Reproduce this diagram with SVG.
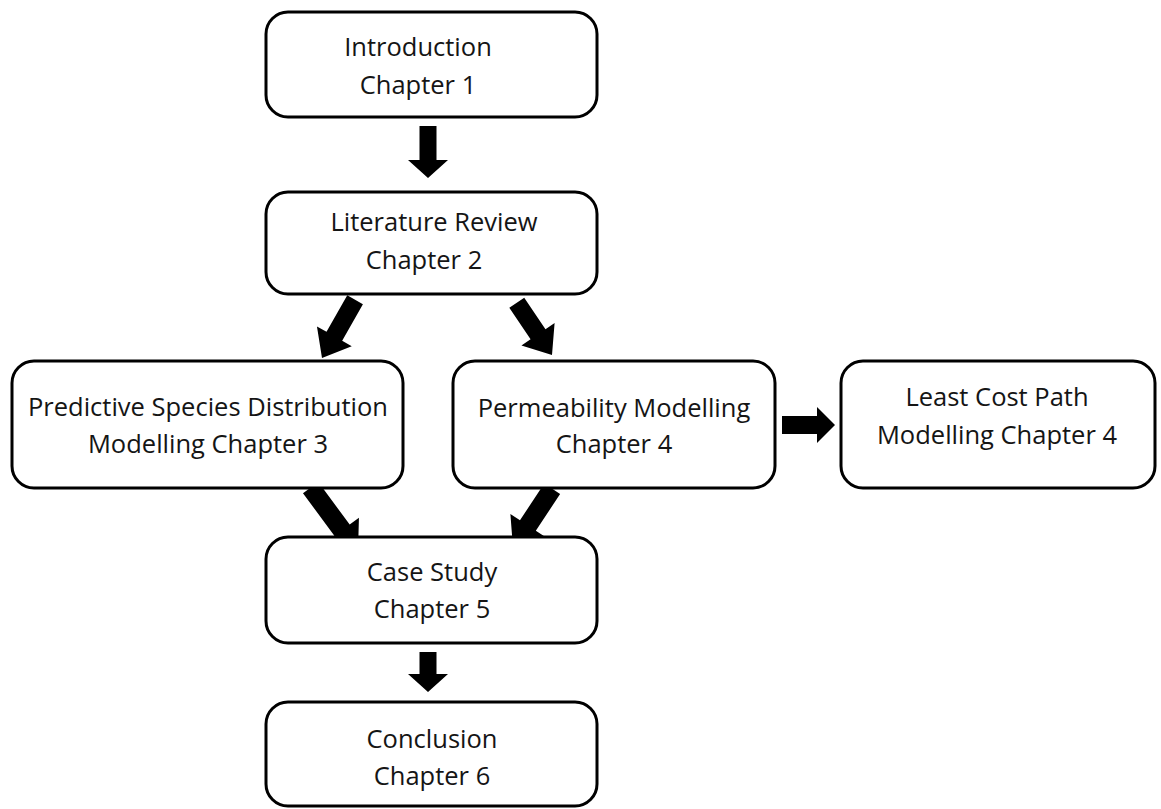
<svg xmlns="http://www.w3.org/2000/svg" width="1161" height="809" viewBox="0 0 1161 809">
<style>
.box{fill:#fff;stroke:#000;stroke-width:3}
.t{font-family:"Open Sans","Liberation Sans",sans-serif;font-size:25.5px;fill:#151515;text-anchor:middle}
.arr{fill:#000}
</style>
<rect width="1161" height="809" fill="#fff"/>
<g id="connectors">
<path class="arr" transform="translate(428,178) rotate(90)" d="M-52,-8.5 L-18,-8.5 L-18,-20 L0,0 L-18,20 L-18,8.5 L-52,8.5 Z"/>
<path class="arr" transform="translate(322,358) rotate(119.6)" d="M-67,-9 L-25,-9 L-25,-20 L0,0 L-25,20 L-25,9 L-67,9 Z"/>
<path class="arr" transform="translate(552,355) rotate(56)" d="M-63,-9 L-25,-9 L-25,-20 L0,0 L-25,20 L-25,9 L-63,9 Z"/>
<path class="arr" transform="translate(358,552) rotate(53.7)" d="M-80,-9.5 L-27,-9.5 L-27,-21 L0,0 L-27,21 L-27,9.5 L-80,9.5 Z"/>
<path class="arr" transform="translate(513,548) rotate(123.5)" d="M-71,-9.5 L-27,-9.5 L-27,-21 L0,0 L-27,21 L-27,9.5 L-71,9.5 Z"/>
<path class="arr" transform="translate(428,692) rotate(90)" d="M-40,-8.5 L-18,-8.5 L-18,-20 L0,0 L-18,20 L-18,8.5 L-40,8.5 Z"/>
<path class="arr" transform="translate(835,425) rotate(0)" d="M-53,-9 L-18,-9 L-18,-18 L0,0 L-18,18 L-18,9 L-53,9 Z"/>
</g>
<g id="intro">
<rect class="box" x="266" y="12" width="331" height="105" rx="22"/>
<text class="t" x="418" y="56">Introduction</text>
<text class="t" x="418" y="94">Chapter 1</text>
</g>
<g id="literature">
<rect class="box" x="266" y="192" width="331" height="102" rx="22"/>
<text class="t" x="434" y="231">Literature Review</text>
<text class="t" x="424" y="269">Chapter 2</text>
</g>
<g id="predictive">
<rect class="box" x="12" y="361" width="391" height="127" rx="22"/>
<text class="t" x="208" y="416">Predictive Species Distribution</text>
<text class="t" x="208" y="453">Modelling Chapter 3</text>
</g>
<g id="permeability">
<rect class="box" x="453" y="361" width="322" height="127" rx="22"/>
<text class="t" x="614" y="417">Permeability Modelling</text>
<text class="t" x="614" y="453">Chapter 4</text>
</g>
<g id="leastcost">
<rect class="box" x="841" y="361" width="314" height="127" rx="22"/>
<text class="t" x="997" y="406">Least Cost Path</text>
<text class="t" x="997" y="444">Modelling Chapter 4</text>
</g>
<g id="casestudy">
<rect class="box" x="266" y="537" width="331" height="106" rx="22"/>
<text class="t" x="432" y="581">Case Study</text>
<text class="t" x="432" y="618">Chapter 5</text>
</g>
<g id="conclusion">
<rect class="box" x="266" y="702" width="331" height="104" rx="22"/>
<text class="t" x="432" y="748">Conclusion</text>
<text class="t" x="432" y="785">Chapter 6</text>
</g>
</svg>
